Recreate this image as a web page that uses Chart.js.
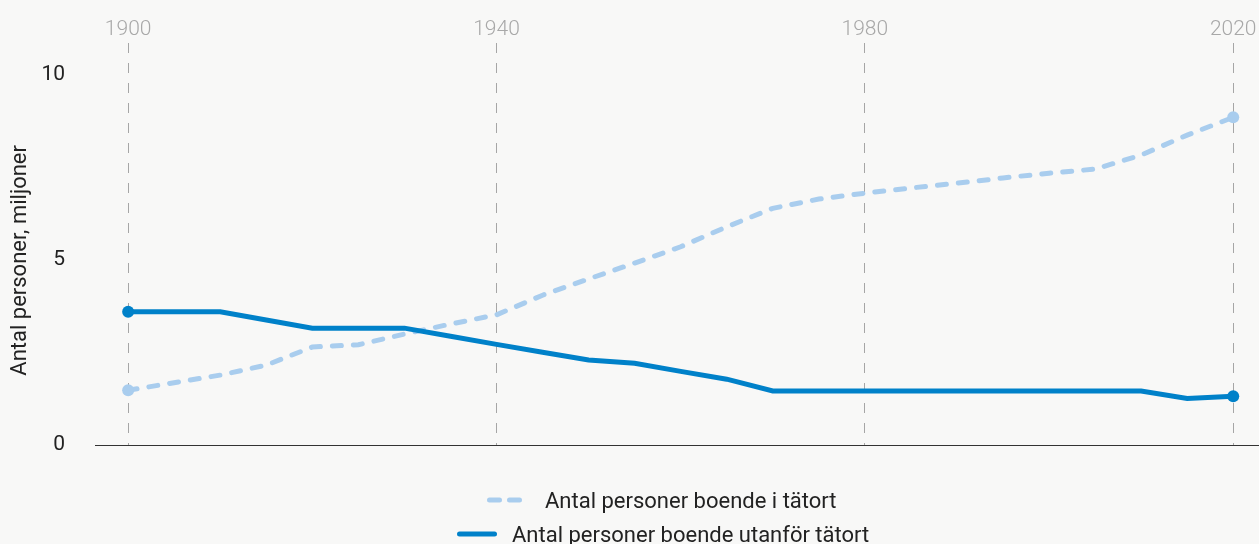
<!DOCTYPE html>
<html><head><meta charset="utf-8">
<script src="https://cdn.jsdelivr.net/npm/chart.js@4.4.0/dist/chart.umd.min.js"></script>
<style>
html,body{margin:0;padding:0;background:#f8f8f7;}
#wrap{position:relative;width:1259px;height:544px;overflow:hidden;}
canvas{position:absolute;left:0;top:0;}
.lg{position:absolute;height:30px;display:flex;align-items:center;font:22px Roboto, sans-serif;color:#222;white-space:nowrap;}
.lg svg{display:block;}
</style></head><body>
<div id="wrap"><canvas id="c" width="1259" height="544"></canvas><div id="legend"></div></div>
<script>
const years   = [1900,1910,1915,1920,1925,1930,1935,1940,1945,1950,1955,1960,1965,1970,1975,1980,1985,1990,1995,2000,2005,2010,2015,2020];
const tatort  = [1.48,1.89,2.16,2.65,2.71,3.00,3.27,3.52,4.05,4.49,4.92,5.36,5.90,6.40,6.65,6.81,6.95,7.08,7.22,7.35,7.46,7.84,8.38,8.86];
const utanfor = [3.60,3.60,3.38,3.16,3.16,3.16,2.94,2.72,2.51,2.30,2.21,1.99,1.78,1.46,1.46,1.46,1.46,1.46,1.46,1.46,1.46,1.46,1.26,1.32];
const xTicks = [1900,1940,1980,2020];
const yTicks = [0,5,10];
const seriesLabels = ['Antal personer boende i tätort','Antal personer boende utanför tätort'];
const yTitle = 'Antal personer, miljoner';

const colLight = '#a9cdee';
const colDark = '#0081c9';
const endPoint = c => (c.dataIndex === 0 || c.dataIndex === c.dataset.data.length - 1) ? 6 : 0;

new Chart(document.getElementById('c'), {
  type: 'line',
  data: {
    datasets: [
      { label: seriesLabels[0], data: years.map((y,i)=>({x:y, y:tatort[i]})),
        borderColor: colLight, backgroundColor: colLight, borderWidth: 5, borderDash: [9,12], borderCapStyle: 'round',
        pointRadius: endPoint, pointHoverRadius: endPoint, pointBorderWidth: 0, tension: 0, order: 2 },
      { label: seriesLabels[1], data: years.map((y,i)=>({x:y, y:utanfor[i]})),
        borderColor: colDark, backgroundColor: colDark, borderWidth: 5, borderJoinStyle: 'miter',
        pointRadius: endPoint, pointHoverRadius: endPoint, pointBorderWidth: 0, tension: 0, order: 1 }
    ]
  },
  options: {
    responsive: false, animation: false,
    layout: { autoPadding: false, padding: { top: 0, bottom: 99, left: 0, right: 0 } },
    plugins: { legend: { display: false }, tooltip: { enabled: false } },
    scales: {
      x: {
        type: 'linear', position: 'top', min: 1896.4, max: 2022.8,
        afterBuildTicks: s => { s.ticks = xTicks.map(v => ({ value: v })); },
        afterFit: s => { s.height = 43; },
        border: { display: false, dash: [10,10] },
        grid: { color: '#a6a6a6', lineWidth: 1, drawTicks: false },
        ticks: { padding: 1, color: '#a8a8a8', font: { family: 'Roboto', size: 21, weight: 300 },
                 maxRotation: 0, autoSkip: false, callback: v => String(v) }
      },
      y: {
        min: 0, max: 10.87,
        afterBuildTicks: s => { s.ticks = yTicks.map(v => ({ value: v })); },
        afterFit: s => { s.width = 95; },
        border: { display: false },
        grid: { drawTicks: false, lineWidth: 1, color: c => (c.tick && c.tick.value === 0) ? '#333' : 'rgba(0,0,0,0)' },
        ticks: { padding: 30, color: '#222', font: { family: 'Roboto', size: 21 } },
        title: { display: true, text: yTitle + '\u00a0\u00a0\u00a0\u00a0\u00a0\u00a0', color: '#222',
                 font: { family: 'Roboto', size: 22 }, padding: { top: 7, bottom: 0 } }
      }
    }
  }
});

// HTML legend (two rows, as in the reference)
const lg = document.getElementById('legend');
const rows = [
  { sx: 487, w: 35, tx: 545, cy: 500, col: colLight, dash: '10 10' },
  { sx: 457, w: 40, tx: 512, cy: 534, col: colDark, dash: '' }
];
rows.forEach((r, i) => {
  const s = document.createElement('div');
  s.className = 'lg'; s.style.left = r.sx + 'px'; s.style.top = (r.cy - 15) + 'px';
  s.innerHTML = `<svg width="${r.w}" height="10"><line x1="2.5" y1="5" x2="${r.w-2.5}" y2="5" stroke="${r.col}" stroke-width="5" stroke-linecap="round" ${r.dash ? 'stroke-dasharray="'+r.dash+'"' : ''}/></svg>`;
  lg.appendChild(s);
  const t = document.createElement('div');
  t.className = 'lg'; t.style.left = r.tx + 'px'; t.style.top = (r.cy - 15) + 'px';
  t.textContent = seriesLabels[i];
  lg.appendChild(t);
});
</script>
</body></html>
